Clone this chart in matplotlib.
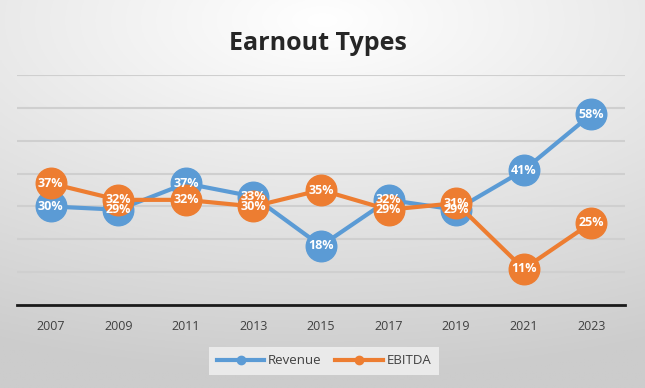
import numpy as np
import matplotlib
matplotlib.use("Agg")
import matplotlib.pyplot as plt
from matplotlib.lines import Line2D

years = ["2007", "2009", "2011", "2013", "2015", "2017", "2019", "2021", "2023"]
revenue = [30, 29, 37, 33, 18, 32, 29, 41, 58]
ebitda = [37, 32, 32, 30, 35, 29, 31, 11, 25]
series_names = ["Revenue", "EBITDA"]
title = "Earnout Types"

blue = "#5B9BD5"
orange = "#ED7D31"

plt.rcParams['font.family'] = ['Open Sans', 'DejaVu Sans']

fig = plt.figure(figsize=(6.45, 3.88), dpi=100)

# background gradient
bg = fig.add_axes([0, 0, 1, 1], zorder=-10)
yy, xx = np.mgrid[0:1:200j, 0:1:300j]
d = np.sqrt(((xx - 0.5) * 1.0) ** 2 + ((yy - 0.05) * 1.3) ** 2)
val = 1.0 - 0.2 * np.clip(d / 1.2, 0, 1)
img = np.dstack([val, val, val])
bg.imshow(img, aspect='auto', extent=[0, 1, 0, 1], origin='upper')
bg.set_axis_off()

ax = fig.add_axes([17 / 645, (388 - 305) / 388, (625 - 17) / 645, (305 - 75) / 388])
ax.patch.set_alpha(0)
x = np.arange(len(years))

for y, name, c in [(revenue, series_names[0], blue), (ebitda, series_names[1], orange)]:
    ax.plot(x, y, color=c, lw=3, marker='o', markersize=22, zorder=3, label=name,
            markeredgecolor=c)
    for xi, yi in zip(x, y):
        ax.text(xi, yi, f"{yi}%", color='white', ha='center', va='center',
                fontsize=9, fontweight='bold', zorder=4)

ax.set_xlim(-0.5, len(years) - 0.5)
ax.set_ylim(0, 70)
ax.set_yticks(np.arange(10, 71, 10))
ax.yaxis.grid(True, color='#cfcfcf', lw=1.5, zorder=0)
ax.tick_params(axis='y', left=False, labelleft=False)
ax.set_xticks(x)
ax.set_xticklabels(years, fontsize=9, color='#404040')
ax.tick_params(axis='x', length=0, pad=11)
for s in ['top', 'right', 'left']:
    ax.spines[s].set_visible(False)
ax.spines['bottom'].set_color('#1a1a1a')
ax.spines['bottom'].set_linewidth(2)
ax.set_axisbelow(True)

fig.text(318 / 645, 1 - 43 / 388, title, ha='center', va='center',
         fontsize=18, fontweight='bold', color='#262626')

handles = [Line2D([0], [0], color=blue, lw=3, marker='o', markersize=6),
           Line2D([0], [0], color=orange, lw=3, marker='o', markersize=6)]
leg = fig.legend(handles, series_names, loc='center', bbox_to_anchor=(324 / 645, 1 - 361 / 388),
                 ncol=2, frameon=True, fontsize=9.5, handlelength=3.6, columnspacing=1.0,
                 handletextpad=0.3, fancybox=False, borderpad=0.6)
leg.get_frame().set_facecolor('#f2f2f2')
leg.get_frame().set_edgecolor('none')
for t in leg.get_texts():
    t.set_color('#404040')

fig.savefig("out.png", dpi=100)
